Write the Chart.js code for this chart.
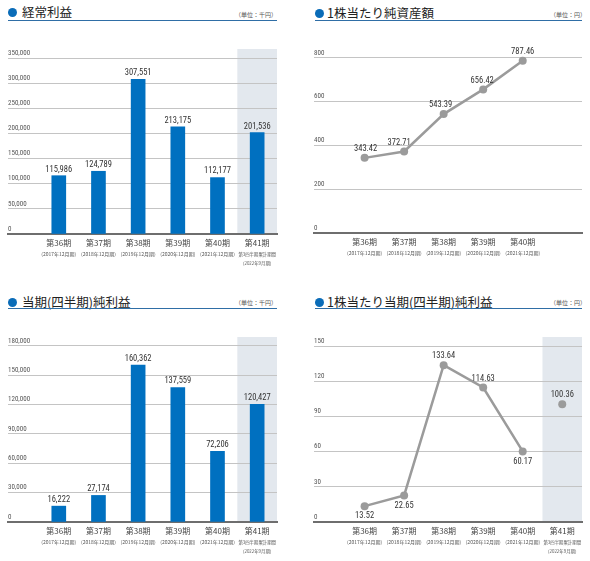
<!DOCTYPE html>
<html><head><meta charset="utf-8">
<script src="https://cdn.jsdelivr.net/npm/chart.js@4.4.1/dist/chart.umd.min.js"></script>
<style>
html,body{margin:0;padding:0;background:#fff;}
body{width:590px;height:561px;position:relative;overflow:hidden;font-family:"Noto Sans CJK JP",sans-serif;}
.bullet{position:absolute;width:9px;height:9px;border-radius:50%;background:#0a6cb8;}
.title{position:absolute;font-size:12.5px;line-height:16px;color:#222;font-weight:400;white-space:nowrap;}
.unit{position:absolute;font-size:6px;line-height:8px;color:#555;white-space:nowrap;}
.rule{position:absolute;height:1.5px;background:#2f6ea6;}
canvas{position:absolute;}
</style></head>
<body>
<div class="bullet" style="left:8px;top:8px"></div>
<div class="title" style="left:22px;top:4px">経常利益</div>
<div class="unit" style="left:235px;top:11px">（単位：千円）</div>
<div class="rule" style="left:8px;top:19.5px;width:269px"></div>

<div class="bullet" style="left:314.5px;top:8.5px"></div>
<div class="title" style="left:327px;top:4.5px">1株当たり純資産額</div>
<div class="unit" style="left:550px;top:11px">（単位：円）</div>
<div class="rule" style="left:315px;top:19.5px;width:267px"></div>

<div class="bullet" style="left:8px;top:297.5px"></div>
<div class="title" style="left:22px;top:294px">当期(四半期)純利益</div>
<div class="unit" style="left:235px;top:299px">（単位：千円）</div>
<div class="rule" style="left:8px;top:307.5px;width:269px"></div>

<div class="bullet" style="left:314.5px;top:297.5px"></div>
<div class="title" style="left:327px;top:294px">1株当たり当期(四半期)純利益</div>
<div class="unit" style="left:550px;top:299px">（単位：円）</div>
<div class="rule" style="left:315px;top:307.5px;width:267px"></div>

<canvas id="c1" width="295" height="240" style="left:0;top:40px"></canvas>
<canvas id="c2" width="295" height="240" style="left:295px;top:40px"></canvas>
<canvas id="c3" width="295" height="233" style="left:0;top:328px"></canvas>
<canvas id="c4" width="295" height="233" style="left:295px;top:328px"></canvas>

<script>
// ---- data ----
const periods = ['第36期','第37期','第38期','第39期','第40期','第41期'];
const periodNotes = ['(2017年12月期)','(2018年12月期)','(2019年12月期)','(2020年12月期)','(2021年12月期)',['第3四半期累計期間','(2022年9月期)']];
const ordinaryProfit = [115986,124789,307551,213175,112177,201536];
const bookValuePerShare = [343.42,372.71,543.39,656.42,787.46];
const netIncome = [16222,27174,160362,137559,72206,120427];
const earningsPerShare = [13.52,22.65,133.64,114.63,60.17,100.36];
const profitTicks = [0,50000,100000,150000,200000,250000,300000,350000];
const bookValueTicks = [0,200,400,600,800];
const netIncomeTicks = [0,30000,60000,90000,120000,150000,180000];
const epsTicks = [0,30,60,90,120,150];

// ---- styling ----
const NUM_FONT = '"Liberation Sans Narrow","Roboto Condensed","Arial Narrow",Roboto,sans-serif';
const JP_FONT = '"Noto Sans CJK JP",sans-serif';
const BLUE = '#0070c0';
const GREY = '#9b9b9b';
const X_MIN = -1.28, X_MAX = 5.5;

const bandPlugin = {
  id: 'band',
  beforeDraw(chart, args, opts) {
    const {ctx, chartArea, scales: {x, y}} = chart;
    const l = x.getPixelForValue(opts.index - 0.5), r = x.getPixelForValue(opts.index + 0.5);
    const b = y.getPixelForValue(0);
    ctx.save();
    ctx.fillStyle = '#e3e8ee';
    ctx.fillRect(l, chartArea.top, r - l, b - chartArea.top);
    ctx.restore();
  }
};

const barLabels = {
  id: 'barLabels',
  afterDatasetsDraw(chart) {
    const ctx = chart.ctx;
    const meta = chart.getDatasetMeta(0);
    const ds = chart.data.datasets[0];
    ctx.save();
    ctx.font = '8.5px ' + NUM_FONT;
    ctx.fillStyle = '#333';
    ctx.textAlign = 'center';
    ctx.textBaseline = 'bottom';
    meta.data.forEach((el, i) => {
      ctx.fillText(ds.data[i].y.toLocaleString('en-US'), el.x, el.y - 2);
    });
    ctx.restore();
  }
};

const pointLabels = {
  id: 'pointLabels',
  afterDatasetsDraw(chart, args, opts) {
    const ctx = chart.ctx;
    const meta = chart.getDatasetMeta(0);
    const ds = chart.data.datasets[0];
    const place = opts.place || [];
    const dx = opts.dx || [];
    ctx.save();
    ctx.font = '8.5px ' + NUM_FONT;
    ctx.fillStyle = '#333';
    ctx.textAlign = 'center';
    ctx.textBaseline = 'middle';
    meta.data.forEach((el, i) => {
      const below = place[i] === 'below';
      ctx.fillText(ds.data[i].y.toFixed(2), el.x + (dx[i] || 0), el.y + (below ? 10 : -9));
    });
    ctx.restore();
  }
};

function fixX(h) {
  return s => { s.height = h; s.paddingLeft = 0; s.paddingRight = 0; };
}

function makeScales(nLabels, yTicks, yMax, fmt) {
  const common = {
    type: 'linear', min: X_MIN, max: X_MAX, position: 'bottom', offset: false, bounds: 'data',
    grid: {display: false, drawTicks: false, offset: false},
    afterBuildTicks: s => { s.ticks = periods.map((_, i) => ({value: i})); }
  };
  return {
    x: Object.assign({}, common, {
      weight: 0,
      border: {display: true, color: '#6e6e6e', width: 2},
      afterFit: fixX(14),
      ticks: {autoSkip: false, maxRotation: 0, minRotation: 0, padding: 4, color: '#444',
        font: {family: JP_FONT, size: 8},
        callback: v => (v < nLabels ? periods[v] : '')}
    }),
    x2: Object.assign({}, common, {
      weight: 1,
      border: {display: false},
      afterFit: fixX(25),
      ticks: {autoSkip: false, maxRotation: 0, minRotation: 0, padding: 2, color: '#555',
        font: c => ({family: JP_FONT, size: c.index === 5 ? 4.4 : 5, lineHeight: c.index === 5 ? 2 : 1.8}),
        callback: v => (v < nLabels ? periodNotes[v] : '')}
    }),
    y: {
      min: 0, max: yMax, position: 'left',
      afterBuildTicks: s => { s.ticks = yTicks.map(v => ({value: v})); },
      afterFit: s => { s.width = 0; },
      grid: {color: '#c4c4c4', lineWidth: 1, drawTicks: false},
      border: {display: false},
      ticks: {mirror: true, padding: 0, labelOffset: -5, color: '#555',
        font: {family: NUM_FONT, size: 7}, callback: fmt}
    }
  };
}

const baseOpts = (padding, scales, extraPlugins) => ({
  responsive: false, animation: false,
  layout: {padding},
  plugins: Object.assign({legend: {display: false}, tooltip: {enabled: false}}, extraPlugins || {}),
  scales
});

const thousands = v => v.toLocaleString('en-US');
const plain = v => String(v);

new Chart(document.getElementById('c1'), {
  type: 'line',
  data: {datasets: [{type: 'bar', data: ordinaryProfit.map((v, i) => ({x: i, y: v})), backgroundColor: BLUE, barThickness: 14}]},
  options: baseOpts({top: 9, left: 8, right: 18, bottom: 7},
    makeScales(6, profitTicks, 368000, thousands), {band: {index: 5}}),
  plugins: [bandPlugin, barLabels]
});

new Chart(document.getElementById('c2'), {
  type: 'line',
  data: {datasets: [{data: bookValuePerShare.map((v, i) => ({x: i, y: v})), borderColor: GREY, borderWidth: 2.5,
    pointRadius: 4, pointBackgroundColor: GREY, pointBorderWidth: 0, tension: 0}]},
  options: baseOpts({top: 9, left: 19, right: 8, bottom: 8},
    makeScales(5, bookValueTicks, 841, plain),
    {pointLabels: {place: ['above','above','above','above','above'], dx: [1,-5,-3,-1,0]}}),
  plugins: [pointLabels]
});

new Chart(document.getElementById('c3'), {
  type: 'line',
  data: {datasets: [{type: 'bar', data: netIncome.map((v, i) => ({x: i, y: v})), backgroundColor: BLUE, barThickness: 14}]},
  options: baseOpts({top: 9, left: 8, right: 18, bottom: 0},
    makeScales(6, netIncomeTicks, 189200, thousands), {band: {index: 5}}),
  plugins: [bandPlugin, barLabels]
});

new Chart(document.getElementById('c4'), {
  type: 'line',
  data: {datasets: [{data: earningsPerShare.map((v, i) => ({x: i, y: v})), borderColor: GREY, borderWidth: 2.5,
    pointRadius: 4, pointBackgroundColor: GREY, pointBorderWidth: 0, tension: 0,
    segment: {borderColor: c => (c.p1DataIndex === 5 ? 'rgba(0,0,0,0)' : GREY)}}]},
  options: baseOpts({top: 9, left: 19, right: 8, bottom: 0},
    makeScales(6, epsTicks, 157.7, plain),
    {band: {index: 5}, pointLabels: {place: ['below','below','above','above','below','above'], dx: [0,0,0,0,0,0]}}),
  plugins: [bandPlugin, pointLabels]
});
</script>
</body></html>
